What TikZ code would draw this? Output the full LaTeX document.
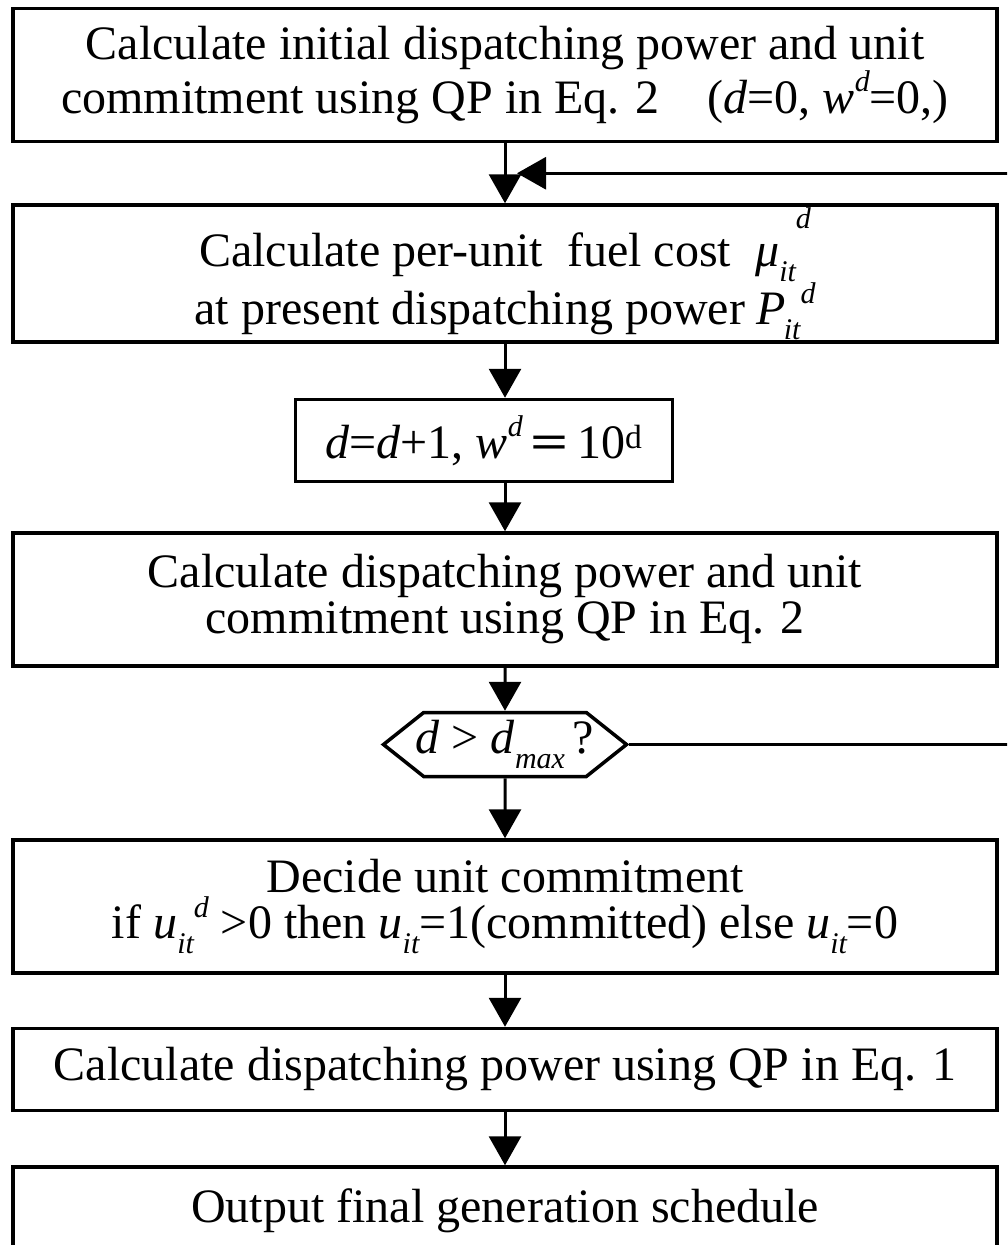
\documentclass[tikz,border=0pt]{standalone}
\usepackage{fontspec}
\setmainfont{Liberation Serif}
\usetikzlibrary{positioning}
\usetikzlibrary{shapes.symbols}
\usetikzlibrary{arrows.meta}

\newcommand{\lo}[1]{\raisebox{-0.3em}{\fontsize{30}{30}\selectfont\itshape #1}}
\newcommand{\hi}[1]{\raisebox{0.45em}{\fontsize{30}{30}\selectfont\itshape #1}}
\newcommand{\hii}[1]{\raisebox{0.8em}{\fontsize{30}{30}\selectfont\itshape #1}}

\begin{document}
\begin{tikzpicture}[x=1pt,y=-1pt,font=\fontsize{48}{46}\selectfont,
	box/.style={rectangle,draw,line width=3.5pt,align=center,minimum width=984pt,inner sep=0pt},
	check/.style={signal,signal to=west and east,signal pointer angle=77,draw,line width=3.5pt,minimum height=64pt,inner xsep=-8pt,inner ysep=0pt},
	flow/.style={line width=3pt,-{Triangle[width=32pt,length=29pt]}}
	]
	\useasboundingbox (0,0) rectangle (1007,1245);
	\clip (0,0) rectangle (1007,1245);
	\node[box,minimum height=133pt] (init) at (505,75) {Calculate initial dispatching power and unit\\commitment using QP in Eq. 2\hspace{1em}(\textit{d}=0, \textit{w}\hi{d}=0,)};
	\node[box,minimum height=137pt,below=60pt of init] (cost) {Calculate per-unit\ \ fuel cost\ \ \textit{μ}\lo{it}\hii{d}\\at present dispatching power \textit{P}\kern-0.05em\lo{it}\hi{d}};
	\node[box,minimum width=377pt,minimum height=82pt,below=54pt of cost,xshift=-21pt] (incr) {\textit{d}=\textit{d}+1, \textit{w}\hi{d}\,\scalebox{1.4}[1]{\textbf{=}}\,10\textsuperscript{d}};
	\node[box,minimum height=133pt,below=48pt of incr,xshift=21pt] (calc) {Calculate dispatching power and unit\\commitment using QP in Eq. 2};
	\node[check,below=43pt of calc] (stop) {\textit{d} > \textit{d}\lo{max}\,?};
	\node[box,minimum height=133pt,below=60pt of stop] (decide) {Decide unit commitment\\if \textit{u}\lo{it}\hi{d} >0 then \textit{u}\lo{it}=1(committed) else \textit{u}\lo{it}=0};
	\node[box,minimum height=82pt,below=52pt of decide] (final) {Calculate dispatching power using QP in Eq. 1};
	\node[box,minimum height=87pt,below=53pt of final] (output) {Output final generation schedule};
	\coordinate (back) at ([xshift=12pt,yshift=-30pt]init.south);
	\draw[flow] (init) -- (cost);
	\draw[flow] (cost.south) -- (cost.south |- incr.north);
	\draw[flow] (calc.north |- incr.south) -- (calc.north);
	\draw[flow] (calc) -- (stop);
	\draw[flow] (stop) -- (decide);
	\draw[flow] (decide) -- (final);
	\draw[flow] (final) -- (output);
	\draw[flow] (stop.east) -- ++(420,0) |- (back);
\end{tikzpicture}
\end{document}
